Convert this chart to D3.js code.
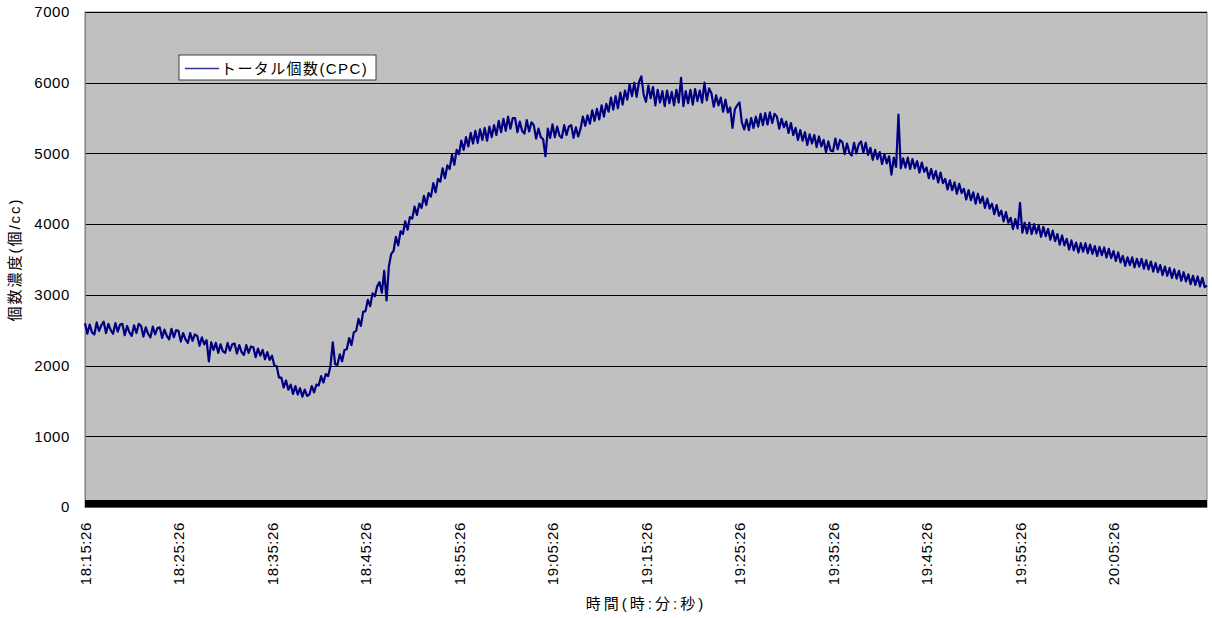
<!DOCTYPE html>
<html>
<head>
<meta charset="utf-8">
<script src="https://cdn.jsdelivr.net/npm/d3@7"></script>
<style>
body { margin: 0; background: #fff; }
text { font-family: "Liberation Sans", Arial, "Noto Sans CJK JP", sans-serif; fill: #000; }
</style>
</head>
<body>
<div class="container"></div>
<script>
// CPC readings, one every 15 s from 18:15:26 (one group of 4 = one minute)
var cpc = [
2600,2450,2580,2470, 2440,2610,2490,2570, 2620,2460,2590,2500, 2450,2600,2480,2580,
2590,2430,2560,2470, 2420,2570,2460,2590, 2560,2410,2540,2450, 2400,2550,2440,2530,
2540,2390,2510,2420, 2370,2520,2400,2500, 2490,2340,2460,2370, 2320,2460,2350,2440,
2420,2280,2400,2300, 2360,2060,2330,2220, 2320,2180,2300,2200, 2180,2320,2210,2300,
2310,2170,2290,2190, 2150,2290,2180,2270, 2260,2120,2240,2140, 2220,2090,2190,2080,
2140,2000,1990,1830, 1830,1690,1790,1660, 1730,1600,1710,1590, 1680,1560,1660,1570,
1590,1710,1620,1730, 1720,1850,1760,1880, 1850,1990,2330,2020, 2010,2160,2060,2220,
2230,2390,2290,2470, 2490,2660,2560,2760, 2770,2930,2840,3020, 2980,3120,3180,3030,
3340,2920,3400,3580, 3620,3820,3700,3900, 3860,4040,3920,4100, 4080,4250,4130,4290,
4230,4400,4270,4440, 4390,4580,4450,4640, 4600,4790,4650,4830, 4780,4980,4840,5050,
4990,5180,5050,5230, 5100,5290,5140,5320, 5150,5340,5190,5360, 5180,5380,5230,5400,
5260,5460,5300,5490, 5320,5520,5350,5500, 5500,5300,5450,5320, 5280,5470,5310,5440,
5400,5210,5350,5230, 5200,4960,5350,5220, 5410,5230,5380,5250, 5220,5400,5260,5380,
5400,5220,5370,5240, 5350,5520,5390,5540, 5420,5610,5460,5630, 5480,5680,5520,5700,
5590,5790,5620,5810, 5640,5860,5690,5890, 5760,5980,5810,6000, 5800,6010,6090,5830,
5730,5960,5780,5940, 5680,5900,5720,5880, 5670,5890,5710,5870, 5680,5900,5720,6070,
5670,5880,5710,5900, 5690,5910,5740,5890, 5720,6000,5750,5920, 5850,5660,5820,5680,
5790,5590,5760,5580, 5650,5360,5620,5680, 5720,5440,5340,5480, 5330,5500,5360,5520,
5380,5560,5400,5570, 5410,5580,5430,5560, 5520,5350,5490,5370, 5450,5290,5430,5260,
5360,5190,5330,5180, 5300,5120,5270,5140, 5260,5090,5240,5100, 5190,5020,5170,5040,
5030,5210,5060,5190, 5160,4990,5140,5010, 4970,5150,5000,5130, 5170,5010,5150,4980,
5080,4910,5050,4920, 5020,4850,4990,4860, 4960,4700,4940,4810, 5550,4790,4930,4800,
4940,4780,4920,4790, 4890,4730,4870,4740, 4800,4650,4780,4640, 4750,4590,4730,4580,
4640,4490,4620,4480, 4590,4430,4570,4440, 4500,4350,4480,4340, 4450,4290,4430,4300,
4390,4230,4360,4220, 4290,4140,4270,4120, 4190,4040,4170,4020, 4090,3930,4070,3940,
4300,3880,4020,3870, 4020,3860,4000,3870, 3980,3820,3960,3830, 3930,3780,3910,3760,
3860,3710,3840,3700, 3790,3640,3770,3630, 3740,3600,3730,3610, 3730,3590,3710,3580,
3690,3550,3680,3560, 3670,3530,3650,3520, 3620,3480,3600,3460, 3550,3410,3530,3420,
3530,3390,3510,3400, 3510,3370,3490,3360, 3470,3330,3450,3320, 3420,3280,3400,3270,
3380,3240,3360,3230, 3340,3200,3320,3190, 3290,3150,3270,3140, 3260,3120,3240,3110,
3130
];
var startTime = "18:15:26";
var stepSec = 15;
var yTicks = [0, 1000, 2000, 3000, 4000, 5000, 6000, 7000];
var xTickLabels = ["18:15:26","18:25:26","18:35:26","18:45:26","18:55:26","19:05:26",
  "19:15:26","19:25:26","19:35:26","19:45:26","19:55:26","20:05:26"];
var seriesName = "トータル個数(CPC)";

var W = 1212, H = 618;
var pLeft = 85, pRight = 1207, pTop = 12, pBottom = 507;

var parseT = d3.timeParse("%H:%M:%S");
var t0 = parseT(startTime);
var times = cpc.map((d, i) => new Date(t0.getTime() + i * stepSec * 1000));

var svg = d3.select('.container').append('svg')
  .attr('width', W).attr('height', H);

var x = d3.scaleTime()
  .domain([times[0], times[times.length - 1]])
  .range([pLeft, pRight]);

var y = d3.scaleLinear()
  .domain([0, 7000])
  .range([pBottom, pTop]);

// plot area
svg.append('rect')
  .attr('x', pLeft).attr('y', pTop)
  .attr('width', pRight - pLeft).attr('height', pBottom - pTop)
  .style('fill', '#c0c0c0')
  .style('stroke', '#808080');

// gridlines
svg.append('g').selectAll('line')
  .data(yTicks.filter(d => d > 0))
  .enter().append('line')
  .attr('x1', pLeft).attr('x2', pRight)
  .attr('y1', d => Math.round(y(d)) + 0.5).attr('y2', d => Math.round(y(d)) + 0.5)
  .style('stroke', '#000').style('stroke-width', 1);

// y axis
var yAxis = d3.axisLeft(y).tickValues(yTicks).tickSize(0).tickPadding(15)
  .tickFormat(d3.format("d"));
var yG = svg.append('g')
  .attr('transform', 'translate(' + pLeft + ',0)')
  .call(yAxis);
yG.select('.domain').style('stroke', '#808080');
yG.selectAll('text').style('font-size', '15px').style('letter-spacing', '0.6px')
  .attr('font-family', null);

// the line
var line = d3.line()
  .x((d, i) => x(times[i]))
  .y(d => y(d));

svg.append('path')
  .datum(cpc)
  .attr('d', line)
  .style('fill', 'none')
  .style('stroke', '#000080')
  .style('stroke-width', 2.2)
  .style('stroke-linejoin', 'round');

// dense category ticks along the bottom
svg.append('rect')
  .attr('x', pLeft).attr('y', y(0) - 7)
  .attr('width', pRight - pLeft).attr('height', 7.5)
  .style('fill', '#000');

// x tick labels
svg.append('g').selectAll('text')
  .data(xTickLabels)
  .enter().append('text')
  .attr('transform', d => 'translate(' + (x(parseT(d)) + 5.5) + ',522) rotate(-90)')
  .attr('text-anchor', 'end')
  .style('font-size', '15px')
  .style('letter-spacing', '0.6px')
  .text(d => d);

// axis titles
svg.append('text')
  .attr('x', (pLeft + pRight) / 2).attr('y', 609)
  .attr('text-anchor', 'middle')
  .style('font-size', '15px')
  .style('letter-spacing', '3px')
  .text('時間(時:分:秒)');

svg.append('text')
  .attr('transform', 'translate(20,' + ((pTop + pBottom) / 2) + ') rotate(-90)')
  .attr('text-anchor', 'middle')
  .style('font-size', '15px')
  .style('letter-spacing', '2px')
  .text('個数濃度(個/cc)');

// legend
var lg = svg.append('g').attr('transform', 'translate(179,55)');
lg.append('rect')
  .attr('width', 197).attr('height', 25)
  .style('fill', '#fff').style('stroke', '#404040');
lg.append('line')
  .attr('x1', 6).attr('x2', 40).attr('y1', 13.5).attr('y2', 13.5)
  .style('stroke', '#3333a0').style('stroke-width', 1.5);
lg.append('text')
  .attr('x', 42).attr('y', 19)
  .style('font-size', '15px')
  .style('letter-spacing', '1.4px')
  .text(seriesName);
</script>
</body>
</html>
